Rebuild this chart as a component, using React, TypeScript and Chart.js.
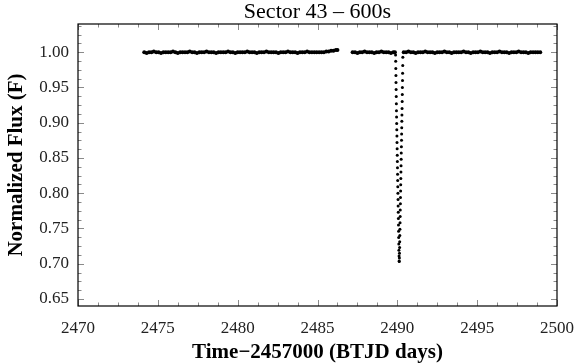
import React, { useEffect, useRef } from "react";
import { Chart, registerables } from "chart.js";

Chart.register(...registerables);

const chartTitle = "Sector 43 \u2013 600s";
const xTitle = "Time\u22122457000 (BTJD days)";
const yTitle = "Normalized Flux (F)";

const xTickValues = [2470, 2475, 2480, 2485, 2490, 2495, 2500];
const yTickValues = [0.65, 0.7, 0.75, 0.8, 0.85, 0.9, 0.95, 1.0];

const seg1Time = [
  2474.15, 2474.3, 2474.45, 2474.6, 2474.75, 2474.9,
  2475.05, 2475.2, 2475.35, 2475.5, 2475.65, 2475.8, 2475.95,
  2476.1, 2476.25, 2476.4, 2476.55, 2476.7, 2476.85,
  2477.0, 2477.15, 2477.3, 2477.45, 2477.6, 2477.75, 2477.9,
  2478.05, 2478.2, 2478.35, 2478.5, 2478.65, 2478.8, 2478.95,
  2479.1, 2479.25, 2479.4, 2479.55, 2479.7, 2479.85,
  2480.0, 2480.15, 2480.3, 2480.45, 2480.6, 2480.75, 2480.9,
  2481.05, 2481.2, 2481.35, 2481.5, 2481.65, 2481.8, 2481.95,
  2482.1, 2482.25, 2482.4, 2482.55, 2482.7, 2482.85,
  2483.0, 2483.15, 2483.3, 2483.45, 2483.6, 2483.75, 2483.9,
  2484.05, 2484.2, 2484.35, 2484.5, 2484.65, 2484.8, 2484.95,
  2485.1, 2485.25, 2485.4, 2485.55, 2485.7, 2485.85,
  2486.0, 2486.15, 2486.25,
];
const seg1Flux = [
  1.0, 0.999, 1.0, 1.0, 1.001, 1.0, 1.0, 0.999, 1.0, 1.0,
  1.0, 1.0, 1.001, 1.0, 0.999, 1.0, 1.0, 1.0, 1.0, 1.001,
  1.0, 1.0, 0.999, 1.0, 1.0, 1.0, 1.001, 1.0, 1.0, 1.0,
  0.999, 1.0, 1.0, 1.0, 1.0, 1.001, 1.0, 1.0, 0.999, 1.0,
  1.0, 1.0, 1.0, 1.001, 1.0, 1.0, 1.0, 0.999, 1.0, 1.0,
  1.0, 1.001, 1.0, 1.0, 1.0, 1.0, 0.999, 1.0, 1.0, 1.0,
  1.001, 1.0, 1.0, 1.0, 0.999, 1.0, 1.0, 1.0, 1.001, 1.0,
  1.0, 1.0, 1.0, 1.0, 1.0, 1.0, 1.001, 1.001, 1.002, 1.002,
  1.003, 1.003,
];

const seg2Time = [
  2487.2, 2487.35, 2487.5, 2487.65, 2487.8, 2487.95, 2488.1, 2488.25, 2488.4, 2488.55,
  2488.7, 2488.85, 2489.0, 2489.15, 2489.3, 2489.45, 2489.6, 2489.75, 2489.85,
];
const seg2Flux = [
  1.0, 1.0, 0.999, 1.0, 1.0, 1.001, 1.0, 1.0, 1.0, 0.999,
  1.0, 1.0, 1.001, 1.0, 1.0, 1.0, 0.999, 1.0, 1.0,
];

const ingressTime = [
  2489.89, 2489.897, 2489.904, 2489.911, 2489.918, 2489.925, 2489.932, 2489.939, 2489.946, 2489.953,
  2489.96, 2489.967, 2489.974, 2489.981, 2489.988, 2489.995, 2490.002, 2490.009, 2490.016, 2490.023,
  2490.03, 2490.037, 2490.044, 2490.051, 2490.058, 2490.065, 2490.072, 2490.079, 2490.086, 2490.093,
  2490.1, 2490.107, 2490.114,
];
const ingressFlux = [
  0.996, 0.987, 0.977, 0.967, 0.957, 0.947, 0.937, 0.927, 0.917, 0.908,
  0.899, 0.89, 0.881, 0.872, 0.863, 0.854, 0.845, 0.836, 0.827, 0.818,
  0.809, 0.8, 0.791, 0.782, 0.773, 0.764, 0.755, 0.746, 0.737, 0.728,
  0.719, 0.711, 0.704,
];

const egressTime = [
  2490.121, 2490.128, 2490.135, 2490.142, 2490.149, 2490.156, 2490.163, 2490.17, 2490.177, 2490.184,
  2490.191, 2490.198, 2490.205, 2490.212, 2490.219, 2490.226, 2490.233, 2490.24, 2490.247, 2490.254,
  2490.261, 2490.268, 2490.275, 2490.282, 2490.289, 2490.296, 2490.303, 2490.31, 2490.317, 2490.324,
  2490.331, 2490.338, 2490.345,
];
const egressFlux = [
  0.703, 0.708, 0.715, 0.723, 0.731, 0.74, 0.749, 0.758, 0.767, 0.776,
  0.785, 0.794, 0.803, 0.812, 0.821, 0.83, 0.839, 0.848, 0.857, 0.866,
  0.875, 0.884, 0.893, 0.902, 0.911, 0.92, 0.93, 0.94, 0.95, 0.96,
  0.97, 0.981, 0.993,
];

const seg3Time = [
  2490.4, 2490.55, 2490.7, 2490.85,
  2491.0, 2491.15, 2491.3, 2491.45, 2491.6, 2491.75, 2491.9,
  2492.05, 2492.2, 2492.35, 2492.5, 2492.65, 2492.8, 2492.95,
  2493.1, 2493.25, 2493.4, 2493.55, 2493.7, 2493.85,
  2494.0, 2494.15, 2494.3, 2494.45, 2494.6, 2494.75, 2494.9,
  2495.05, 2495.2, 2495.35, 2495.5, 2495.65, 2495.8, 2495.95,
  2496.1, 2496.25, 2496.4, 2496.55, 2496.7, 2496.85,
  2497.0, 2497.15, 2497.3, 2497.45, 2497.6, 2497.75, 2497.9,
  2498.05, 2498.2, 2498.35, 2498.5, 2498.65, 2498.8, 2498.95,
];
const seg3Flux = [
  1.0, 1.0, 1.001, 1.0, 1.0, 0.999, 1.0, 1.0, 1.0, 1.001,
  1.0, 1.0, 1.0, 0.999, 1.0, 1.0, 1.0, 1.001, 1.0, 1.0,
  0.999, 1.0, 1.0, 1.0, 1.0, 1.001, 1.0, 1.0, 0.999, 1.0,
  1.0, 1.0, 1.001, 1.0, 1.0, 1.0, 0.999, 1.0, 1.0, 1.0,
  1.001, 1.0, 1.0, 1.0, 0.999, 1.0, 1.0, 1.0, 1.001, 1.0,
  1.0, 1.0, 0.999, 1.0, 1.0, 1.0, 1.0, 1.0,
];

const X_MIN = 2470;
const X_MAX = 2500;
const Y_MIN = 0.64;
const Y_MAX = 1.04;
const X_MINOR = 1.25;
const Y_MINOR = 0.0125;

function pairs(t: number[], f: number[]) {
  const out: { x: number; y: number }[] = [];
  const n = Math.min(t.length, f.length);
  for (let i = 0; i < n; i++) out.push({ x: t[i], y: f[i] });
  return out;
}

const SERIF = "'Liberation Serif', 'Times New Roman', serif";

const framePlugin = {
  id: "framePlugin",
  afterDraw(chart: any) {
    const { ctx, chartArea: a, scales } = chart;
    const xs = scales.x;
    const ys = scales.y;
    ctx.save();
    ctx.strokeStyle = "#8a8a8a";
    ctx.lineWidth = 1;
    const line = (x1: number, y1: number, x2: number, y2: number) => {
      ctx.beginPath();
      ctx.moveTo(x1, y1);
      ctx.lineTo(x2, y2);
      ctx.stroke();
    };
    for (let k = 0; X_MIN + k * X_MINOR <= X_MAX + 1e-9; k++) {
      const v = X_MIN + k * X_MINOR;
      const major = xTickValues.some((t) => Math.abs(t - v) < 1e-6);
      const len = major ? 6 : 3.5;
      const px = Math.round(xs.getPixelForValue(v)) + 0.5;
      line(px, a.bottom, px, a.bottom - len);
      line(px, a.top, px, a.top + len);
    }
    for (let k = 0; 0.6375 + k * Y_MINOR <= Y_MAX + 1e-9; k++) {
      const v = 0.6375 + k * Y_MINOR;
      if (v < Y_MIN) continue;
      const major = yTickValues.some((t) => Math.abs(t - v) < 1e-6);
      const len = major ? 6 : 3.5;
      const py = Math.round(ys.getPixelForValue(v)) + 0.5;
      line(a.left, py, a.left + len, py);
      line(a.right, py, a.right - len, py);
    }
    ctx.strokeStyle = "#000";
    ctx.lineWidth = 1.2;
    ctx.strokeRect(a.left, a.top, a.right - a.left, a.bottom - a.top);

    const cx = (a.left + a.right) / 2;
    ctx.fillStyle = "#000";
    ctx.textAlign = "center";
    ctx.textBaseline = "alphabetic";
    ctx.font = `22px ${SERIF}`;
    ctx.fillText(chartTitle, cx, 18);
    ctx.font = `bold 21px ${SERIF}`;
    ctx.fillText(xTitle, cx, 358);
    ctx.save();
    ctx.translate(22, (a.top + a.bottom) / 2);
    ctx.rotate(-Math.PI / 2);
    ctx.fillText(yTitle, 0, 0);
    ctx.restore();
    ctx.restore();
  },
};

export default function App() {
  const ref = useRef<HTMLCanvasElement | null>(null);
  useEffect(() => {
    document.body.style.margin = "0";
    const canvas = ref.current;
    if (!canvas) return;
    const pointStyle = { backgroundColor: "#000", borderWidth: 0, pointHoverRadius: 0 };
    const chart = new Chart(canvas, {
      type: "scatter",
      data: {
        datasets: [
          { data: pairs(seg1Time, seg1Flux), pointRadius: 2, ...pointStyle },
          { data: pairs(seg2Time, seg2Flux), pointRadius: 2, ...pointStyle },
          { data: pairs(seg3Time, seg3Flux), pointRadius: 2, ...pointStyle },
          { data: pairs(ingressTime, ingressFlux), pointRadius: 1.5, ...pointStyle },
          { data: pairs(egressTime, egressFlux), pointRadius: 1.5, ...pointStyle },
        ],
      },
      options: {
        responsive: false,
        animation: false,
        events: [],
        layout: { padding: { top: 24, right: 23, left: 0, bottom: 0 } },
        plugins: {
          legend: { display: false },
          tooltip: { enabled: false },
          title: { display: false },
        },
        scales: {
          x: {
            type: "linear",
            min: X_MIN,
            max: X_MAX,
            grid: { display: false, drawTicks: false },
            border: { display: false },
            afterBuildTicks: (s: any) => {
              s.ticks = xTickValues.map((v) => ({ value: v }));
            },
            afterFit: (s: any) => {
              s.height = 58;
            },
            ticks: {
              padding: 12,
              color: "#222",
              font: { family: SERIF, size: 17 },
              callback: (v: any) => String(v),
              maxRotation: 0,
            },
          },
          y: {
            type: "linear",
            min: Y_MIN,
            max: Y_MAX,
            grid: { display: false, drawTicks: false },
            border: { display: false },
            afterBuildTicks: (s: any) => {
              s.ticks = yTickValues.map((v) => ({ value: v }));
            },
            afterFit: (s: any) => {
              s.width = 78;
            },
            ticks: {
              padding: 9,
              color: "#222",
              font: { family: SERIF, size: 17 },
              callback: (v: any) => Number(v).toFixed(2),
            },
          },
        },
      },
      plugins: [framePlugin],
    });
    return () => chart.destroy();
  }, []);
  return (
    <div style={{ width: 586, height: 364 }}>
      <canvas ref={ref} width={586} height={364} style={{ display: "block" }} />
    </div>
  );
}
